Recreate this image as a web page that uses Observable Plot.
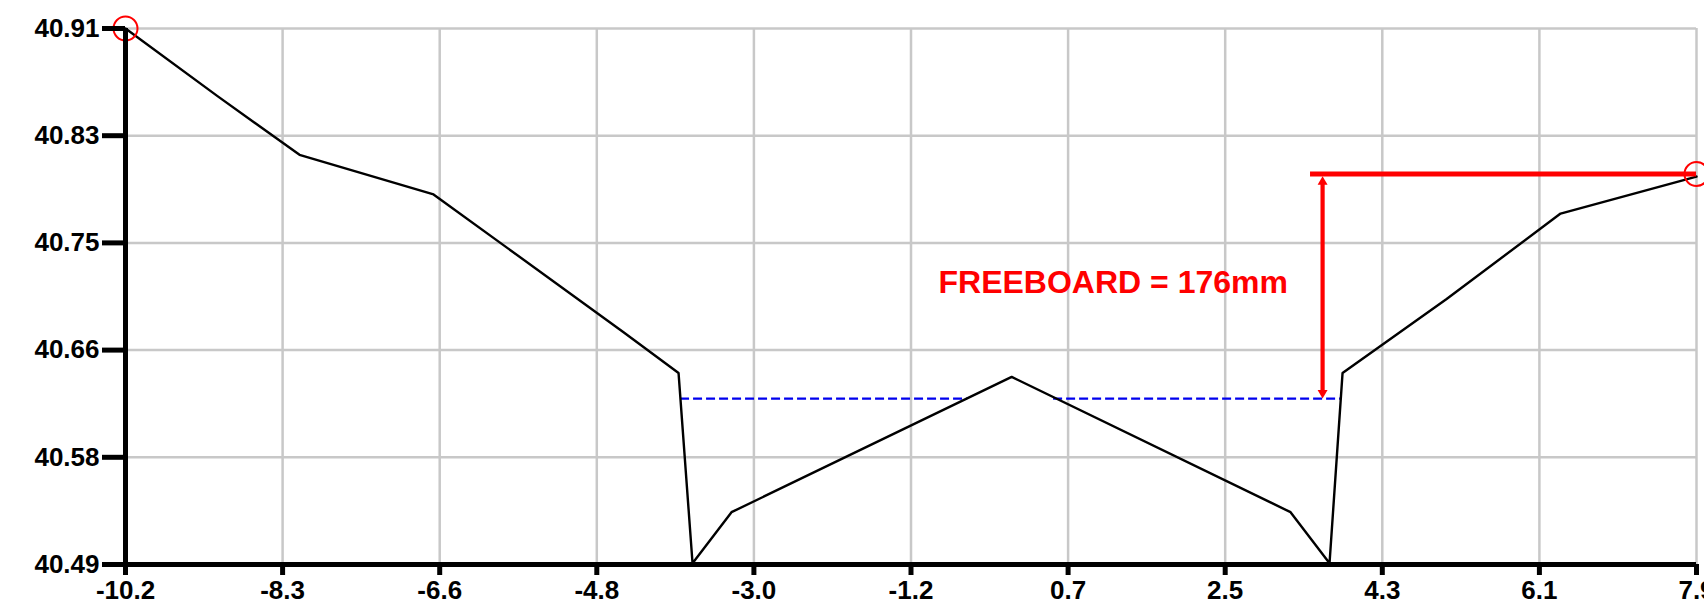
<!DOCTYPE html>
<html>
<head>
<meta charset="utf-8">
<script src="https://cdn.jsdelivr.net/npm/d3@7"></script>
<script src="https://cdn.jsdelivr.net/npm/@observablehq/plot@0.6"></script>
<style>
  html, body { margin: 0; padding: 0; background: #fff; overflow: hidden; }
  #chart svg { display: block; }
</style>
</head>
<body>
<div id="chart"></div>
<script>
// Channel cross-section profile (offset, level)
const profileX = [-10.2, -9.14, -8.195, -6.651, -4.462, -3.828, -3.667, -3.218, 0.01, 3.223, 3.672, 3.822, 5.021, 6.334, 7.9];
const profileY = [40.914, 40.861, 40.815, 40.784, 40.676, 40.644, 40.495, 40.535, 40.641, 40.535, 40.495, 40.644, 40.702, 40.769, 40.798];

// Axis ticks
const xTickValues = [-10.2, -8.39, -6.58, -4.77, -2.96, -1.15, 0.66, 2.47, 4.28, 6.09, 7.9];
const xTickLabels = ["-10.2", "-8.3", "-6.6", "-4.8", "-3.0", "-1.2", "0.7", "2.5", "4.3", "6.1", "7.9"];
const yTickValues = [40.494, 40.578, 40.662, 40.746, 40.830, 40.914];
const yTickLabels = ["40.49", "40.58", "40.66", "40.75", "40.83", "40.91"];
const xDomain = [-10.2, 7.9];
const yDomain = [40.494, 40.914];

// Water level (dashed), split by the central hump
const waterLevel = 40.624;
const waterStartX = [-3.805, 0.493];
const waterEndX = [-0.498, 3.806];

// Freeboard annotation
const topLevel = 40.800;
const topLineStartX = 3.453;
const freeboardX = 3.592;
const freeboardLabel = "FREEBOARD = 176mm";
const labelX = 1.18;
const labelY = 40.715;

// Circled end points
const markedX = [-10.2, 7.9];
const markedY = [40.914, 40.800];

const profile = profileX.map((x, i) => ({x, y: profileY[i]}));
const water = waterStartX.map((x1, i) => ({x1, x2: waterEndX[i]}));
const ends = markedX.map((x, i) => ({x, y: markedY[i]}));

const font = "'Liberation Sans', Arial, Helvetica, sans-serif";

const chart = Plot.plot({
  width: 1704,
  height: 611,
  marginLeft: 125,
  marginRight: 8,
  marginTop: 28,
  marginBottom: 47,
  style: {fontFamily: font, background: "white", color: "black"},
  x: {domain: xDomain},
  y: {domain: yDomain},
  marks: [
    Plot.gridX({ticks: xTickValues, stroke: "#c8c8c8", strokeOpacity: 1, strokeWidth: 2.5}),
    Plot.gridY({ticks: yTickValues, stroke: "#c8c8c8", strokeOpacity: 1, strokeWidth: 2.5}),
    Plot.ruleY(water, {y: () => waterLevel, x1: "x1", x2: "x2", stroke: "#0000ee", strokeWidth: 2.2, strokeDasharray: "9,4"}),
    Plot.line(profile, {x: "x", y: "y", stroke: "black", strokeWidth: 2.4}),
    Plot.ruleY([topLevel], {x1: topLineStartX, x2: xDomain[1], stroke: "red", strokeWidth: 5}),
    Plot.ruleX([freeboardX], {y1: topLevel, y2: waterLevel, stroke: "red", strokeWidth: 4.2, insetTop: 10, insetBottom: 7}),
    Plot.dot([freeboardX], {x: d => d, y: () => topLevel, symbol: "triangle", r: 3.7, fill: "red", stroke: "none", dy: 8}),
    Plot.dot([freeboardX], {x: d => d, y: () => waterLevel, symbol: "triangle", r: 3.7, fill: "red", stroke: "none", rotate: 180, dy: -5.8}),
    Plot.text([freeboardLabel], {x: () => labelX, y: () => labelY, text: d => d, fill: "red", fontSize: 32, fontWeight: "bold", textAnchor: "middle", fontFamily: font}),
    Plot.dot(ends, {x: "x", y: "y", r: 12, stroke: "red", strokeWidth: 2, fill: "none"}),
    Plot.ruleX([xDomain[0]], {stroke: "black", strokeWidth: 5}),
    Plot.ruleY([yDomain[0]], {stroke: "black", strokeWidth: 5}),
    Plot.axisX({ticks: xTickValues, tickFormat: d => xTickLabels[xTickValues.indexOf(d)], tickSize: 11, tickPadding: 5, strokeWidth: 5, fontSize: 26, fontWeight: "bold", fontFamily: font, label: null}),
    Plot.axisY({ticks: yTickValues, tickFormat: d => yTickLabels[yTickValues.indexOf(d)], tickSize: 23, tickPadding: 3, strokeWidth: 5, fontSize: 26, fontWeight: "bold", fontFamily: font, label: null})
  ]
});
document.getElementById("chart").appendChild(chart);
</script>
</body>
</html>
